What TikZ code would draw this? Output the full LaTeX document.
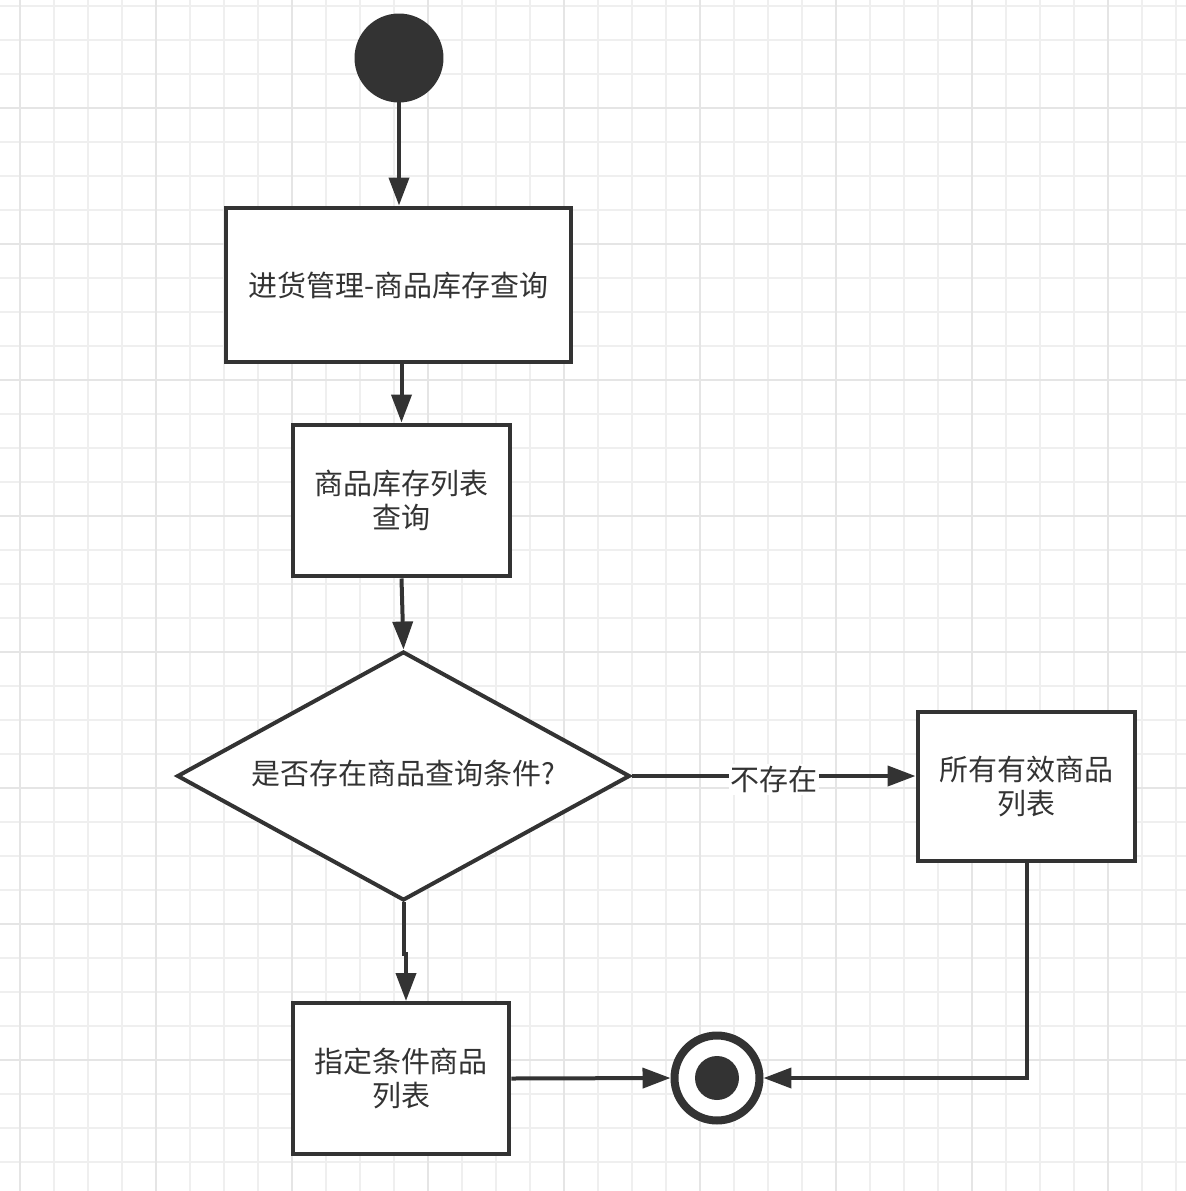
\documentclass[tikz,border=0pt]{standalone}
\usepackage{fontspec}
\usepackage{xcolor}
\usepackage{tikz}
\usetikzlibrary{arrows.meta, shapes.geometric}

\newfontfamily\cjkfont{Noto Sans CJK SC}
\definecolor{ink}{HTML}{333333}
\definecolor{gridminor}{HTML}{EFEFEF}
\definecolor{gridmajor}{HTML}{E5E5E5}

\begin{document}
\begin{tikzpicture}[
    x=0.02cm, y=-0.02cm,
    font=\cjkfont\fontsize{16.5}{19.5}\selectfont,
    >={Triangle[length=0.56cm, width=0.4cm]},
    line width=0.08cm, draw=ink, text=ink,
    box/.style={draw=ink, fill=white, rectangle, line width=0.08cm, align=center, inner sep=0pt}
]

\useasboundingbox (0,0) rectangle (1186,1191);

% background grid
\foreach \i in {0,...,34} {
    \draw[gridminor, line width=0.03cm] (20+34*\i, 0) -- (20+34*\i, 1191);
    \draw[gridminor, line width=0.03cm] (0, 6+34*\i) -- (1186, 6+34*\i);
}
\foreach \i in {0,...,8} {
    \draw[gridmajor, line width=0.04cm] (20+136*\i, 0) -- (20+136*\i, 1191);
    \draw[gridmajor, line width=0.04cm] (0, 108+136*\i) -- (1186, 108+136*\i);
}

\node[circle, draw=ink, fill=ink, minimum size=1.70cm, inner sep=0pt] (start) at (399, 58) {};

\node[box, minimum width=6.92cm, minimum height=3.1cm] (mgmt) at (398.5, 285) {进货管理-商品库存查询};
\node[box, minimum width=4.36cm, minimum height=3.04cm] (lst)  at (401.5, 500.5) {商品库存列表\\查询};
\node[diamond, draw=ink, fill=white, line width=0.08cm, inner sep=0pt, shape aspect=1.82,
      minimum width=9.06cm, minimum height=4.98cm] (cond) at (403.5, 776) {\raisebox{4pt}{是否存在商品查询条件?}};
\node[box, minimum width=4.36cm, minimum height=3.0cm]  (allp) at (1026.5, 786.5) {所有有效商品\\列表};
\node[box, minimum width=4.34cm, minimum height=3.04cm] (spec) at (401, 1078.5) {指定条件商品\\列表};

\node[circle, draw=ink, fill=white, line width=0.16cm, minimum size=1.70cm, inner sep=0pt] (fin) at (717, 1078) {};
\node[circle, fill=ink, minimum size=0.88cm, inner sep=0pt] (dot) at (fin) {};

\coordinate (specin) at (406, 1001);

\draw[->] (start.south) -- (start.south |- mgmt.north);

\draw[->] (lst.north |- mgmt.south) -- (lst.north);

\draw[->] (lst.south) -- (cond.north);

\draw[->] (cond.south) -- ++(0, 52) -| (specin);

\draw[->] (cond.east) -- node[fill=white, inner sep=1pt, yshift=-2pt] (none) {不存在} (cond.east -| allp.west);

\draw[->] (spec.east) -- (fin.west);

\draw[->] (allp.south) |- (fin.east);

\end{tikzpicture}
\end{document}
